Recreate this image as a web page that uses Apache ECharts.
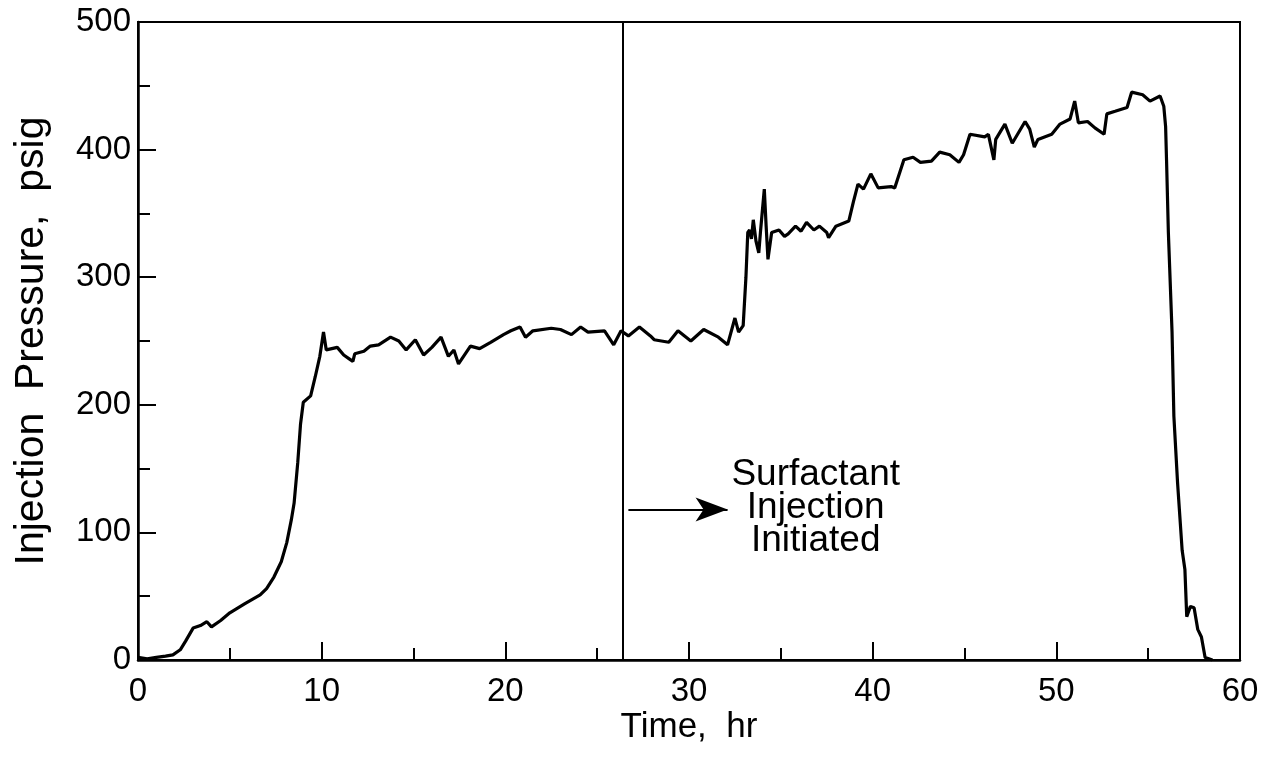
<!DOCTYPE html>
<html>
<head>
<meta charset="utf-8">
<script src="https://cdn.jsdelivr.net/npm/echarts@6/dist/echarts.min.js"></script>
<style>
html,body{margin:0;padding:0;background:#fff;}
#chart{width:1265px;height:760px;}
</style>
</head>
<body>
<div id="chart"></div>
<script>
// Time (hr)
const time = [0,0.5,1,1.5,1.9,2.3,2.6,3.0,3.4,3.75,4.0,4.5,5.0,5.8,6.65,7.0,7.4,7.8,8.1,8.35,8.5,8.7,8.85,9.0,9.4,9.65,9.9,10.1,10.25,10.85,11.2,11.5,11.7,11.8,12.3,12.65,13.1,13.75,14.2,14.6,15.1,15.55,16.0,16.5,16.9,17.2,17.45,18.1,18.6,19.2,19.9,20.3,20.8,21.1,21.5,22.5,23.0,23.6,24.1,24.5,25.4,25.9,26.3,26.7,27.3,27.9,28.1,28.9,29.4,30.1,30.8,31.6,32.1,32.5,32.7,32.95,33.1,33.2,33.3,33.4,33.5,33.65,33.8,33.9,34.1,34.2,34.3,34.5,34.9,35.2,35.4,35.8,36.1,36.4,36.8,37.1,37.5,37.6,38.0,38.7,38.95,39.2,39.5,39.9,40.3,41.0,41.2,41.7,42.2,42.6,43.2,43.65,44.2,44.7,44.95,45.3,46.1,46.3,46.6,46.7,47.2,47.6,48.3,48.55,48.8,49.0,49.75,50.2,50.75,51.0,51.2,51.7,52.1,52.6,52.75,53.2,53.85,54.1,54.7,55.1,55.65,55.85,55.95,56.0,56.1,56.3,56.4,56.6,56.85,57.0,57.1,57.3,57.5,57.7,57.9,58.1,58.5];
// Injection pressure (psig)
const pressure = [2,1,2,3,4,8,15,25,27,30,26,31,37,44,51,56,65,77,92,110,123,155,185,202,207,222,238,257,243,245,239,236,234,240,242,246,247,253,250,243,251,239,245,253,238,243,232,246,244,249,255,258,261,253,258,260,259,255,261,257,258,247,258,254,261,254,251,249,258,250,259,253,247,268,257,262,300,335,337,330,345,328,319,337,369,340,314,335,337,332,334,340,336,343,337,340,335,331,340,344,359,373,369,381,370,371,370,392,394,390,391,398,396,390,396,412,410,412,392,408,420,405,422,416,402,408,412,420,424,438,421,422,417,412,428,430,433,445,443,438,442,434,418,392,335,257,191,139,86,71,34,42,41,24,18,2,0];

const xTicks = [0,10,20,30,40,50,60];
const yTicks = [0,100,200,300,400,500];
const surfactantStart = 26.4;          // vertical marker, hr
const arrowFrom = [26.7, 118];         // arrow start (hr, psig)
const arrowTo = [32.1, 118];           // arrow end (hr, psig)
const noteAt = [36.9, 119];            // annotation centre (hr, psig)
const noteText = 'Surfactant\nInjection\nInitiated';

const FONT = '"Liberation Sans", Arial, Helvetica, sans-serif';
const data = time.map((t, i) => [t, pressure[i]]);

const chart = echarts.init(document.getElementById('chart'), null, {renderer: 'canvas'});
chart.setOption({
  animation: false,
  backgroundColor: '#ffffff',
  grid: {left: 138, right: 25, top: 22, bottom: 100, show: true, borderColor: '#000', borderWidth: 2, backgroundColor: 'transparent'},
  xAxis: {
    type: 'value', min: xTicks[0], max: xTicks[xTicks.length - 1], interval: 10,
    name: 'Time,  hr', nameLocation: 'middle', nameGap: 50, nameMoveOverlap: false,
    nameTextStyle: {fontFamily: FONT, fontSize: 35, color: '#000'},
    axisLine: {show: true, lineStyle: {color: '#000', width: 2.5}},
    axisTick: {show: true, inside: true, length: 18, lineStyle: {color: '#000', width: 2}},
    minorTick: {show: true, splitNumber: 2, length: 12, lineStyle: {color: '#000', width: 2}},
    splitLine: {show: false},
    axisLabel: {fontFamily: FONT, fontSize: 33, color: '#000', margin: 15}
  },
  yAxis: {
    type: 'value', min: yTicks[0], max: yTicks[yTicks.length - 1], interval: 100,
    name: 'Injection  Pressure,  psig', nameLocation: 'middle', nameGap: 86, nameRotate: 90, nameMoveOverlap: false,
    nameTextStyle: {fontFamily: FONT, fontSize: 41, color: '#000'},
    axisLine: {show: true, lineStyle: {color: '#000', width: 2.5}},
    axisTick: {show: true, inside: true, length: 18, lineStyle: {color: '#000', width: 2}},
    minorTick: {show: true, splitNumber: 2, length: 12, lineStyle: {color: '#000', width: 2}},
    splitLine: {show: false},
    axisLabel: {fontFamily: FONT, fontSize: 33, color: '#000', margin: 7}
  },
  series: [{
    type: 'line', data: data, showSymbol: false, smooth: false,
    lineStyle: {color: '#000', width: 3.2},
    markLine: {
      silent: true, animation: false,
      label: {show: false},
      data: [
        [{xAxis: surfactantStart, yAxis: 0, symbol: 'none'}, {xAxis: surfactantStart, yAxis: 500, symbol: 'none'}],
        [{coord: arrowFrom, symbol: 'none'}, {coord: arrowTo, symbol: 'arrow', symbolSize: [18, 32]}]
      ],
      lineStyle: {color: '#000', width: 2, type: 'solid'}
    },
    markPoint: {
      silent: true, animation: false,
      data: [{coord: noteAt, symbol: 'circle', symbolSize: 0,
        label: {show: true, position: 'inside', formatter: noteText, align: 'center',
          fontFamily: FONT, fontSize: 37, lineHeight: 33, color: '#000'}}]
    }
  }]
});
</script>
</body>
</html>
